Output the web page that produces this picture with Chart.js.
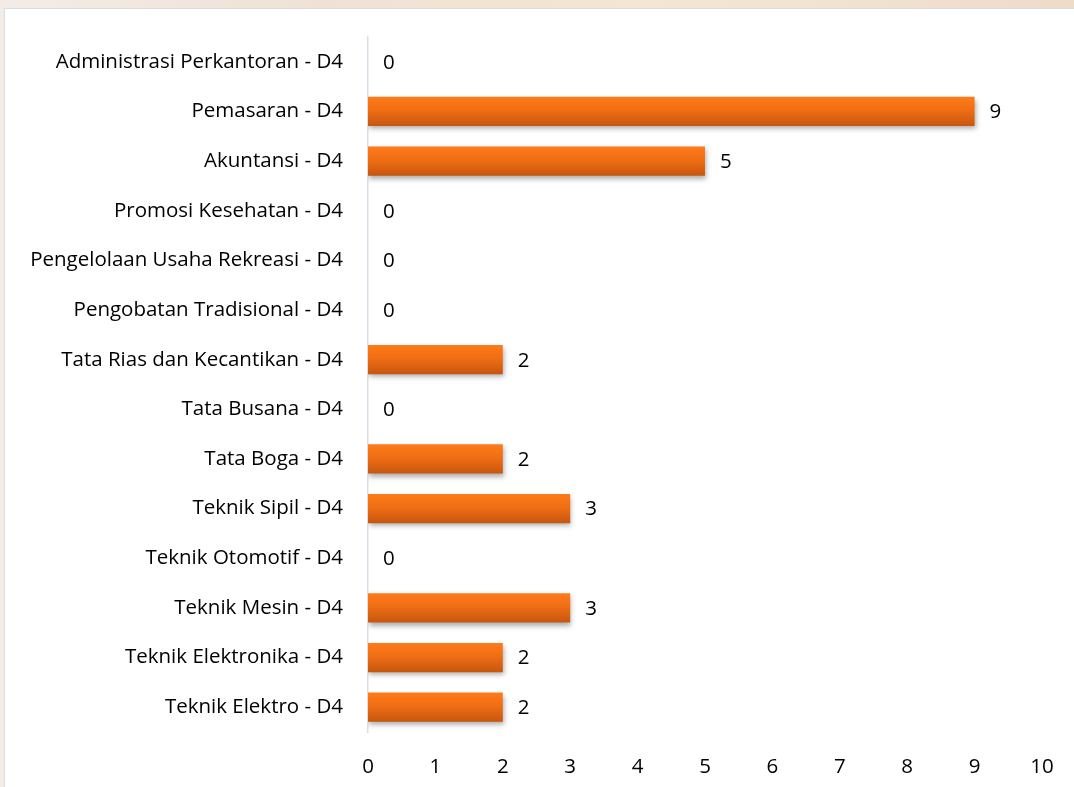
<!DOCTYPE html>
<html>
<head>
<meta charset="utf-8">
<script src="https://cdn.jsdelivr.net/npm/chart.js@4.4.0/dist/chart.umd.min.js"></script>
<style>
  html, body { margin: 0; padding: 0; }
  body {
    width: 1074px; height: 787px; overflow: hidden; position: relative;
    background: linear-gradient(90deg, #f3ece6 0%, #efe2d4 30%, #f4e6d6 60%, #eedccb 100%);
  }
  #frame {
    position: absolute; left: 4px; top: 8px; width: 1100px; height: 800px;
    background: #ffffff; border: 1px solid #d6dde7; box-sizing: border-box;
  }
  #wrap { position: absolute; left: 5px; top: 9px; width: 1069px; height: 778px; }
</style>
</head>
<body>
<div id="frame"></div>
<div id="wrap"><canvas id="chart"></canvas></div>
<script>
  // program names (top to bottom as drawn)
  const labels = [
    'Administrasi Perkantoran - D4',
    'Pemasaran - D4',
    'Akuntansi - D4',
    'Promosi Kesehatan - D4',
    'Pengelolaan Usaha Rekreasi - D4',
    'Pengobatan Tradisional - D4',
    'Tata Rias dan Kecantikan - D4',
    'Tata Busana - D4',
    'Tata Boga - D4',
    'Teknik Sipil - D4',
    'Teknik Otomotif - D4',
    'Teknik Mesin - D4',
    'Teknik Elektronika - D4',
    'Teknik Elektro - D4'
  ];
  const values = [0, 9, 5, 0, 0, 0, 2, 0, 2, 3, 0, 3, 2, 2];
  const xMin = 0, xMax = 10, xStep = 1;

  const FONT = '"Open Sans", Lato, sans-serif';
  const FSIZE = 20.5;
  const BAR_FRAC = 0.59;

  // gradient per bar, top lighter orange to darker bottom
  function barFill(context) {
    const chart = context.chart;
    const y = chart.scales.y;
    if (!y || !chart.chartArea) return '#f0700f';
    const c = y.getPixelForValue(context.dataIndex);
    const h = (y.height / labels.length) * BAR_FRAC;
    const g = chart.ctx.createLinearGradient(0, c - h / 2, 0, c + h / 2);
    g.addColorStop(0, '#ff7b19');
    g.addColorStop(0.45, '#f06e14');
    g.addColorStop(1, '#c6560f');
    return g;
  }

  // soft drop shadow under bars
  const shadowPlugin = {
    id: 'shadow',
    beforeDatasetsDraw(chart) {
      const ctx = chart.ctx;
      ctx.save();
      ctx.shadowColor = 'rgba(0,0,0,0.32)';
      ctx.shadowBlur = 5;
      ctx.shadowOffsetX = 1;
      ctx.shadowOffsetY = 3;
    },
    afterDatasetsDraw(chart) {
      chart.ctx.restore();
    }
  };

  // value labels to the right of each bar
  const valueLabels = {
    id: 'valueLabels',
    afterDatasetsDraw(chart) {
      const ctx = chart.ctx;
      const meta = chart.getDatasetMeta(0);
      ctx.save();
      ctx.font = FSIZE + 'px ' + FONT;
      ctx.fillStyle = '#000000';
      ctx.textAlign = 'left';
      ctx.textBaseline = 'middle';
      meta.data.forEach((bar, i) => {
        ctx.fillText(String(values[i]), bar.x + 15, bar.y + 1);
      });
      ctx.restore();
    }
  };

  new Chart(document.getElementById('chart'), {
    type: 'bar',
    data: {
      labels: labels,
      datasets: [{
        data: values,
        backgroundColor: barFill,
        borderWidth: 0,
        barPercentage: BAR_FRAC,
        categoryPercentage: 1.0
      }]
    },
    options: {
      indexAxis: 'y',
      responsive: true,
      maintainAspectRatio: false,
      animation: false,
      layout: { padding: { top: 28, right: 32, bottom: 0, left: 0 } },
      plugins: {
        legend: { display: false },
        tooltip: { enabled: false }
      },
      scales: {
        x: {
          min: xMin, max: xMax,
          ticks: { stepSize: xStep, color: '#000', padding: 23, font: { family: FONT, size: FSIZE } },
          grid: { display: false, drawTicks: false },
          border: { display: false },
          afterFit(s) { s.height = 55; s.paddingLeft = 0; s.paddingRight = 0; }
        },
        y: {
          ticks: { color: '#000', padding: 25, font: { family: FONT, size: FSIZE } },
          grid: { color: 'transparent', drawTicks: false },
          border: { display: true, color: '#d9dee7', width: 1.5 },
          afterFit(s) { s.width = 363; s.paddingTop = 0; s.paddingBottom = 0; }
        }
      }
    },
    plugins: [shadowPlugin, valueLabels]
  });
</script>
</body>
</html>
